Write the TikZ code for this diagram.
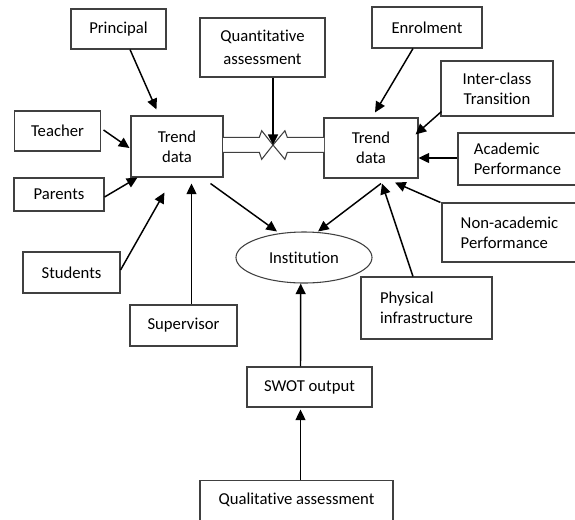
\documentclass[tikz,border=0pt]{standalone}
\usepackage{fontspec}
\setmainfont[RawFeature={-liga}]{Carlito}
\usetikzlibrary{arrows.meta,shapes.geometric,calc}
\definecolor{edge}{HTML}{404040}
\begin{document}
\begin{tikzpicture}[x=0.75pt,y=-0.75pt,
  box/.style={draw=edge,line width=0.8pt,rectangle,inner sep=0pt,align=center,
    font=\fontsize{12.5pt}{15pt}\selectfont},
  lbox/.style={box,align=left},
  oval/.style={draw=edge,line width=0.8pt,ellipse,inner sep=0pt,
    font=\fontsize{12.5pt}{15pt}\selectfont},
  arr/.style={draw=black,line width=1.1pt,-{Triangle[length=8pt,width=7.5pt]}},
  hollow/.style={draw=edge,line width=0.8pt,fill=white,line join=miter}]
\useasboundingbox (0,0) rectangle (575,519);

% boxes
\node[box,minimum width=95pt*0.75,minimum height=40pt*0.75] (principal) at (118.5,29) {Principal};
\node[box,minimum width=125pt*0.75,minimum height=59pt*0.75,
  font=\fontsize{12.5pt}{17pt}\selectfont] (quant) at (262.5,47.5) {Quantitative\\assessment};
\node[box,minimum width=110pt*0.75,minimum height=41pt*0.75] (enrol) at (427,27.5) {Enrolment};
\node[box,minimum width=112pt*0.75,minimum height=55pt*0.75] (inter) at (497,88.5) {Inter-class\\Transition};
\node[box,minimum width=86pt*0.75,minimum height=40pt*0.75] (teacher) at (57.5,131) {Teacher};
\node[box,minimum width=92pt*0.75,minimum height=61pt*0.75] (trendL) at (177,146.5) {Trend\\data};
\node[box,minimum width=94pt*0.75,minimum height=60pt*0.75] (trendR) at (371,148) {Trend\\data};
\node[lbox,minimum width=119pt*0.75,minimum height=52pt*0.75] (acad) at (517.5,159) {Academic\\Performance};
\node[box,minimum width=90pt*0.75,minimum height=33pt*0.75] (parents) at (59,194.5) {Parents};
\node[lbox,minimum width=135pt*0.75,minimum height=59pt*0.75] (nonacad) at (509.5,232.5) {Non-academic\\Performance};
\node[box,minimum width=97pt*0.75,minimum height=41pt*0.75] (students) at (71.5,272.5) {Students};
\node[oval,minimum width=136pt*0.75,minimum height=51pt*0.75] (inst) at (304,257.5) {Institution};
\node[lbox,minimum width=131pt*0.75,minimum height=62pt*0.75] (physical) at (426.5,308) {Physical\\infrastructure};
\node[box,minimum width=107pt*0.75,minimum height=41pt*0.75] (supervisor) at (183.5,325.5) {Supervisor};
\node[box,minimum width=125pt*0.75,minimum height=40pt*0.75] (swot) at (309.5,387) {SWOT output};
\node[box,minimum width=193pt*0.75,minimum height=45pt*0.75,anchor=north] (qual) at (296.5,480)
  {\raisebox{7pt}{Qualitative assessment}};

% meeting point of the two block arrows
\coordinate (meet) at (273,145);

% block arrows between the two trend boxes
\draw[hollow] ($(meet)+(-50,-7.7)$) -- ($(meet)+(-13.7,-7.7)$) -- ($(meet)+(-11.3,-14.3)$)
  -- (meet) -- ($(meet)+(-11.3,14.3)$) -- ($(meet)+(-13.7,7.3)$) -- ($(meet)+(-50,7.3)$);
\draw[hollow] ($(meet)+(51,-7.7)$) -- ($(meet)+(14.3,-7.7)$) -- ($(meet)+(11.9,-14.3)$)
  -- (meet) -- ($(meet)+(11.9,14.3)$) -- ($(meet)+(14.3,7.3)$) -- ($(meet)+(51,7.3)$);

% connectors into the left trend box
\draw[arr] ($(principal.south)+(11.5,0)$) -- ($(trendL.north west)+(26,-6)$);
\draw[arr] ($(teacher.east)+(2.5,-1)$) -- ($(trendL.west)+(-1,1.5)$);
\draw[arr] ($(parents.east)+(0,2.5)$) -- ($(trendL.south west)+(7,0)$);
\draw[arr] ($(students.east)+(0,-2.5)$) -- ($(trendL.south west)+(34,15)$);
\draw[arr] ($(supervisor.north)+(8,0)$) -- ($(trendL.south)+(14.5,6)$);

% connectors into the right trend box
\draw[arr] ($(enrol.south)+(-14,0)$) -- ($(trendR.north)+(4,-5)$);
\draw[arr] ($(inter.south west)+(1,-5)$) -- ($(trendR.north east)+(-3,17)$);
\draw[arr] ($(acad.west)+(0,-1)$) -- ($(trendR.east)+(0,10)$);
\draw[arr] ($(nonacad.north west)+(-1,0)$) -- ($(trendR.south)+(24,4)$);
\draw[arr] ($(physical.north)+(-13.5,0)$) -- ($(trendR.south)+(11,5)$);

% connectors into the institution
\draw[arr] ($(trendL.south east)+(-13,6)$) -- ($(inst.north)+(-27,0)$);
\draw[arr] ($(trendR.south)+(10,5)$) -- ($(inst.north)+(14,0)$);
\draw[arr] ($(swot.north)+(-9,0)$) -- ($(inst.south)+(-3.3,0)$);
\draw[arr] ($(qual.north)+(4,0)$) -- ($(swot.south)+(-9,2)$);

% quantitative assessment into the meeting point
\draw[arr] ($(quant.south)+(10.5,0)$) -- (meet);
\end{tikzpicture}
\end{document}
